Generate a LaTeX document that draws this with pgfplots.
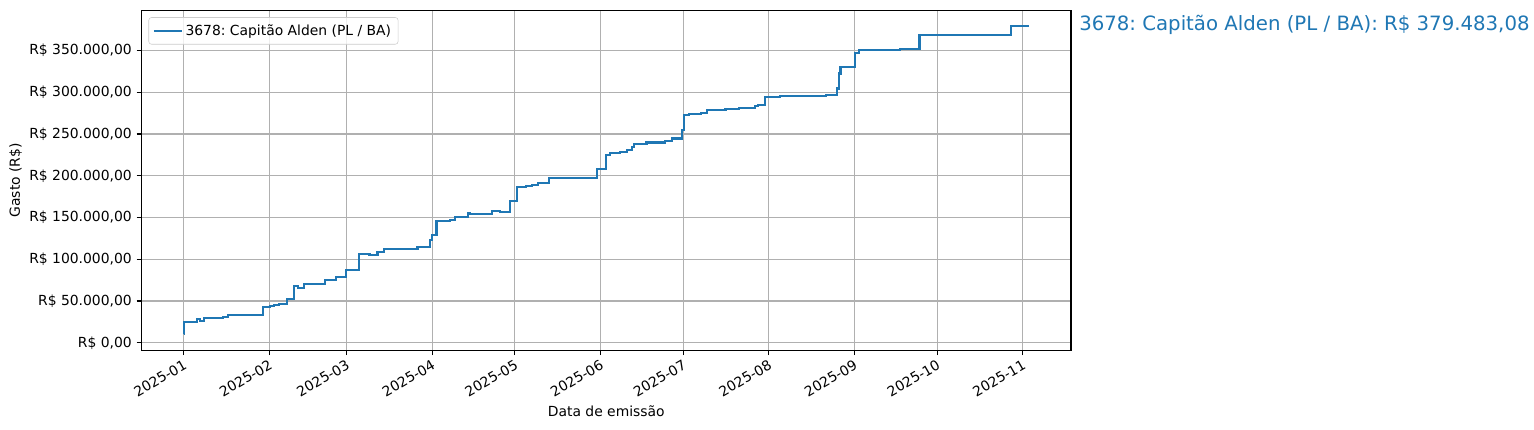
\documentclass[border=0pt]{standalone}
\usepackage{fontspec}
\setmainfont{DejaVu Sans}
\usepackage{pgfplots}
\pgfplotsset{compat=1.18}
\definecolor{mplblue}{HTML}{1F77B4}
\definecolor{gridgray}{HTML}{B0B0B0}
\begin{document}
\frenchspacing
\begin{tikzpicture}
\begin{axis}[
  name=ax, at={(0,0)}, anchor=south west,
  scale only axis, width=669.2pt, height=244.8pt,
  xmin=-15.3, xmax=321.5, ymin=-9000, ymax=398200,
  axis line style={line width=0.8pt},
  grid=major, major grid style={gridgray, line width=0.8pt},
  tick align=outside, major tick length=3.5pt,
  every tick/.style={black, line width=0.8pt},
  xtick pos=left, ytick pos=left,
  xtick={0,31,59,90,120,151,181,212,243,273,304},
  xticklabels={2025-01,2025-02,2025-03,2025-04,2025-05,2025-06,2025-07,2025-08,2025-09,2025-10,2025-11},
  xticklabel style={rotate=30, anchor=north east, font=\fontsize{10}{12}\selectfont, inner sep=2pt},
  ytick={0,50000,100000,150000,200000,250000,300000,350000},
  yticklabels={{R\$ 0,00},{R\$ 50.000,00},{R\$ 100.000,00},{R\$ 150.000,00},{R\$ 200.000,00},{R\$ 250.000,00},{R\$ 300.000,00},{R\$ 350.000,00}},
  yticklabel style={font=\fontsize{10}{12}\selectfont},
  scaled y ticks=false,
  xlabel={Data de emissão}, ylabel={Gasto (R\$)},
  label style={font=\fontsize{10}{12}\selectfont},
  ylabel style={xshift=0pt, yshift=-1.5pt},
  legend style={at={(0,1)}, anchor=north west, xshift=5pt, yshift=-5pt,
    draw=black!20, rounded corners=2pt, fill=white, fill opacity=0.8, text opacity=1,
    font=\fontsize{10}{12}\selectfont, inner sep=3pt},
  legend cell align=left,
  legend image code/.code={\draw[#1] (0pt,0pt) -- (20pt,0pt);},
]
\addplot[const plot, mplblue, line width=1.5pt] coordinates {
(0,10000) (0.2,24700) (4.85,27900) (6.0,26400) (7.5,29500) (14.3,31200) (15.9,33100)
(28.7,42700) (31.4,44400) (32.8,45600) (34.6,46800) (37.4,52300) (39.8,67500) (41.4,65500)
(43.7,70300) (51.3,75500) (55.2,78500) (58.8,87500) (63.6,106000) (67.3,105000) (70.2,108500)
(72.6,112300) (84.7,114600) (89.3,122700) (90.1,129000) (91.6,145800) (96.5,147500) (98.3,150600)
(102.9,155900) (103.8,153800) (111.6,157400) (114.6,156600) (118.2,169500) (120.7,186600)
(124.1,187800) (126.1,189400) (128.5,191400) (132.5,197000) (141.2,197800) (149.6,207800)
(153.0,224600) (154.4,227800) (158.0,228500) (160.5,230600) (162.3,234500) (163.2,238100)
(167.7,239800) (174.4,241400) (176.8,244600) (180.7,254500) (181.3,272500) (183.1,273700)
(187.3,275300) (189.5,278900) (196.3,280100) (201.2,281300) (206.9,283300) (208.1,284900)
(210.5,294500) (216.0,295300) (232.6,296900) (236.8,304500) (237.4,322500) (238.0,330400)
(243.4,347200) (244.7,350500) (259.4,351700) (266.6,368800) (299.8,379483) (306.2,379483)
};
\addlegendentry{3678: Capitão Alden (PL / BA)}
\end{axis}
\node[anchor=west, inner sep=0pt, text=mplblue, font=\fontsize{14.2}{17}\selectfont]
  at ([xshift=5.8pt, yshift=-10.8pt]ax.north east) {3678: Capitão Alden (PL / BA): R\$ 379.483,08};
\pgfresetboundingbox
\path[use as bounding box] (-101.9pt,-57.4pt) rectangle (1002.6pt,252.2pt);
\end{tikzpicture}
\end{document}
